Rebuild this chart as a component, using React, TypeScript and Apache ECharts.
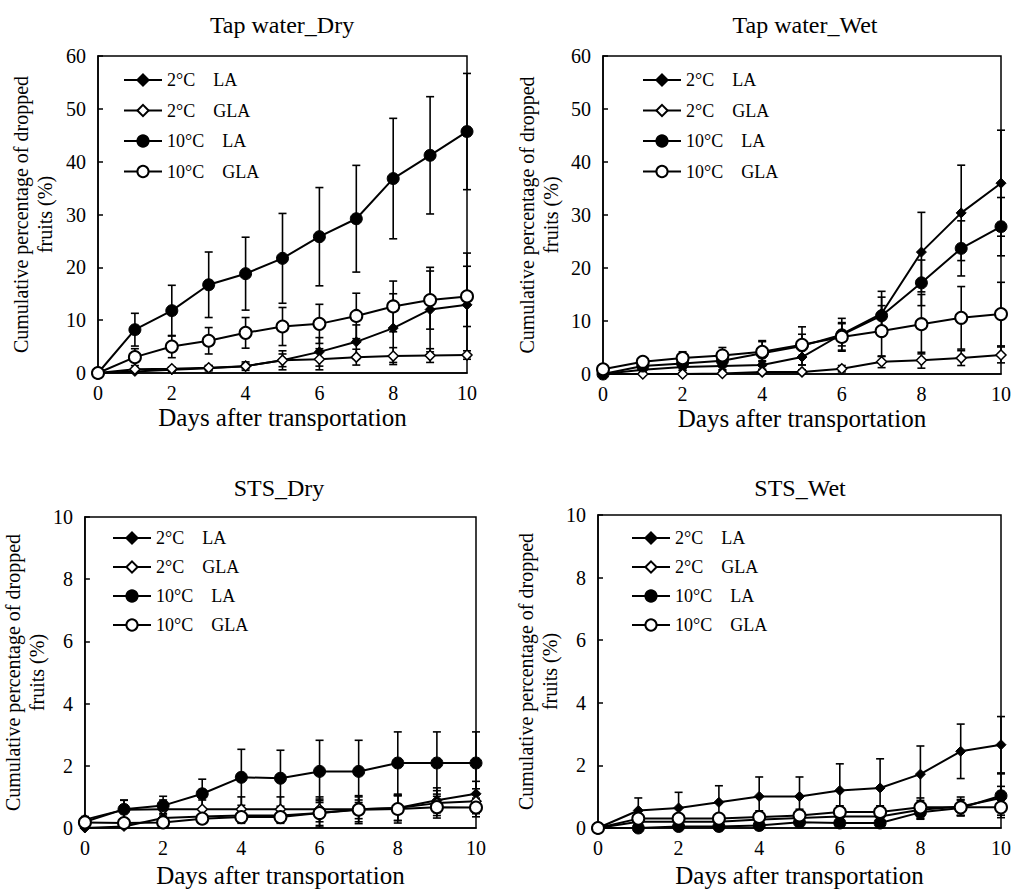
import React, { useEffect, useRef } from 'react';
import * as echarts from 'echarts';

const days = [0, 1, 2, 3, 4, 5, 6, 7, 8, 9, 10];
const legendNames = [
  '2°C\u00a0\u00a0\u00a0\u00a0LA',
  '2°C\u00a0\u00a0\u00a0\u00a0GLA',
  '10°C\u00a0\u00a0\u00a0\u00a0LA',
  '10°C\u00a0\u00a0\u00a0\u00a0GLA',
];
const panelTitles = ['Tap water_Dry', 'Tap water_Wet', 'STS_Dry', 'STS_Wet'];
const xAxisTitle = 'Days after transportation';
const yAxisTitle = 'Cumulative percentage of dropped\nfruits (%)';

// Tap water_Dry
const tapDryLa2 = [0, 0.3, 0.6, 0.9, 1.3, 2.4, 4.0, 5.9, 8.5, 12.0, 12.9];
const tapDryLa2Err = [0, 0.3, 0.4, 0.5, 0.8, 1.8, 2.7, 3.2, 6.5, 8.0, 9.8];
const tapDryGla2 = [0, 0.7, 0.8, 1.0, 1.3, 2.4, 2.6, 3.0, 3.2, 3.3, 3.4];
const tapDryGla2Err = [0, 0.3, 0.3, 0.4, 0.5, 1.2, 2.0, 1.5, 1.6, 1.3, 0.8];
const tapDryLa10 = [0, 8.2, 11.8, 16.7, 18.8, 21.7, 25.8, 29.2, 36.8, 41.2, 45.7];
const tapDryLa10Err = [0, 3.1, 4.8, 6.2, 6.9, 8.5, 9.3, 10.1, 11.4, 11.1, 11.0];
const tapDryGla10 = [0, 3.0, 5.0, 6.1, 7.6, 8.8, 9.3, 10.8, 12.6, 13.8, 14.5];
const tapDryGla10Err = [0, 1.6, 2.1, 2.5, 2.9, 3.6, 3.7, 4.3, 4.8, 5.5, 5.7];

// Tap water_Wet
const tapWetLa2 = [0, 0.8, 1.3, 1.5, 1.7, 3.2, 7.5, 11.4, 23.0, 30.4, 36.0];
const tapWetLa2Err = [0, 0.5, 0.6, 0.7, 0.8, 1.5, 2.2, 4.2, 7.5, 9.0, 10.0];
const tapWetGla2 = [0, 0, 0, 0.1, 0.4, 0.4, 1.0, 2.3, 2.6, 3.0, 3.6];
const tapWetGla2Err = [0, 0.2, 0.2, 0.3, 0.3, 0.4, 0.6, 1.1, 1.5, 1.4, 1.5];
const tapWetLa10 = [0, 1.5, 2.0, 2.5, 3.9, 5.3, 7.4, 11.0, 17.2, 23.7, 27.8];
const tapWetLa10Err = [0, 0.9, 1.3, 1.8, 2.4, 3.6, 3.1, 3.5, 4.3, 5.2, 5.5];
const tapWetGla10 = [0.9, 2.3, 3.0, 3.5, 4.2, 5.5, 7.0, 8.1, 9.4, 10.6, 11.3];
const tapWetGla10Err = [0.3, 0.8, 1.2, 1.5, 1.9, 2.0, 2.5, 4.8, 5.6, 5.9, 6.0];

// STS_Dry
const stsDryLa2 = [0, 0.05, 0.32, 0.37, 0.4, 0.4, 0.48, 0.6, 0.64, 0.89, 1.1];
const stsDryLa2Err = [0, 0.05, 0.15, 0.2, 0.2, 0.2, 0.4, 0.4, 0.4, 0.4, 0.4];
const stsDryGla2 = [0.27, 0.59, 0.6, 0.6, 0.6, 0.6, 0.6, 0.6, 0.64, 0.8, 0.86];
const stsDryGla2Err = [0.1, 0.3, 0.3, 0.3, 0.4, 0.4, 0.4, 0.3, 0.4, 0.4, 0.4];
const stsDryLa10 = [0.2, 0.6, 0.72, 1.1, 1.63, 1.6, 1.82, 1.82, 2.09, 2.09, 2.09];
const stsDryLa10Err = [0.1, 0.3, 0.3, 0.47, 0.9, 0.9, 1.0, 1.0, 1.0, 1.0, 1.0];
const stsDryGla10 = [0.18, 0.16, 0.18, 0.3, 0.35, 0.35, 0.48, 0.59, 0.61, 0.67, 0.66];
const stsDryGla10Err = [0.1, 0.1, 0.1, 0.15, 0.2, 0.2, 0.45, 0.45, 0.45, 0.35, 0.3];

// STS_Wet
const stsWetLa2 = [0, 0.56, 0.64, 0.82, 1.01, 1.01, 1.2, 1.28, 1.72, 2.45, 2.66];
const stsWetLa2Err = [0, 0.4, 0.5, 0.53, 0.62, 0.62, 0.85, 0.93, 0.9, 0.87, 0.9];
const stsWetGla2 = [0, 0.2, 0.2, 0.2, 0.27, 0.32, 0.37, 0.37, 0.58, 0.69, 0.96];
const stsWetGla2Err = [0, 0.1, 0.1, 0.1, 0.15, 0.15, 0.2, 0.2, 0.3, 0.3, 0.37];
const stsWetLa10 = [0, 0, 0.05, 0.05, 0.08, 0.18, 0.16, 0.16, 0.5, 0.64, 1.03];
const stsWetLa10Err = [0, 0, 0.1, 0.1, 0.1, 0.1, 0.1, 0.1, 0.2, 0.25, 0.7];
const stsWetGla10 = [0, 0.3, 0.3, 0.3, 0.35, 0.4, 0.51, 0.51, 0.66, 0.66, 0.66];
const stsWetGla10Err = [0, 0.1, 0.1, 0.1, 0.2, 0.2, 0.2, 0.2, 0.3, 0.25, 0.25];

const yMaxes = [60, 60, 10, 10];
const yIntervals = [10, 10, 2, 2];

const panelValues = [
  [tapDryLa2, tapDryGla2, tapDryLa10, tapDryGla10],
  [tapWetLa2, tapWetGla2, tapWetLa10, tapWetGla10],
  [stsDryLa2, stsDryGla2, stsDryLa10, stsDryGla10],
  [stsWetLa2, stsWetGla2, stsWetLa10, stsWetGla10],
];
const panelErrors = [
  [tapDryLa2Err, tapDryGla2Err, tapDryLa10Err, tapDryGla10Err],
  [tapWetLa2Err, tapWetGla2Err, tapWetLa10Err, tapWetGla10Err],
  [stsDryLa2Err, stsDryGla2Err, stsDryLa10Err, stsDryGla10Err],
  [stsWetLa2Err, stsWetGla2Err, stsWetLa10Err, stsWetGla10Err],
];

// Layout (pixels)
const FONT = "'Liberation Serif', 'Times New Roman', serif";
const grids = [
  { left: 98, top: 56, width: 369, height: 317 },
  { left: 603, top: 56, width: 402, height: 318 },
  { left: 83, top: 517, width: 393, height: 311 },
  { left: 598, top: 515, width: 406, height: 313 },
];
const titlePos = [
  { x: 282, y: 13 },
  { x: 805, y: 13 },
  { x: 279, y: 476 },
  { x: 800, y: 476 },
];
const legendPos = [
  { left: 123, top: 71, gap: 12.5 },
  { left: 642, top: 71, gap: 12.5 },
  { left: 112, top: 529, gap: 11 },
  { left: 631, top: 529, gap: 11 },
];
const xNameGaps = [32, 32, 35, 35];
const yNameGaps = [41, 40, 31, 35];

const markerStyles = [
  { symbol: 'diamond', size: 10, fill: '#000', borderWidth: 1 },
  { symbol: 'diamond', size: 10, fill: '#fff', borderWidth: 1.5 },
  { symbol: 'circle', size: 12, fill: '#000', borderWidth: 1 },
  { symbol: 'circle', size: 12, fill: '#fff', borderWidth: 2 },
];

function buildOption() {
  const series: any[] = [];
  panelValues.forEach((vals, p) => {
    vals.forEach((arr, s) => {
      const errs = panelErrors[p][s];
      series.push({
        type: 'custom',
        xAxisIndex: p,
        yAxisIndex: p,
        z: 1,
        silent: true,
        data: days.map((d, j) => [d, arr[j], errs[j]]),
        encode: { x: 0, y: 1 },
        renderItem: (params: any, api: any) => {
          const x = api.value(0);
          const y = api.value(1);
          const e = api.value(2);
          if (!e) return null;
          const top = api.coord([x, y + e]);
          const bot = api.coord([x, Math.max(0, y - e)]);
          const hw = 4;
          const st = { stroke: '#000', lineWidth: 1.6 };
          return {
            type: 'group',
            children: [
              { type: 'line', shape: { x1: top[0], y1: top[1], x2: bot[0], y2: bot[1] }, style: st },
              { type: 'line', shape: { x1: top[0] - hw, y1: top[1], x2: top[0] + hw, y2: top[1] }, style: st },
              { type: 'line', shape: { x1: bot[0] - hw, y1: bot[1], x2: bot[0] + hw, y2: bot[1] }, style: st },
            ],
          };
        },
      });
    });
    vals.forEach((arr, s) => {
      const m = markerStyles[s];
      series.push({
        type: 'line',
        name: legendNames[s],
        xAxisIndex: p,
        yAxisIndex: p,
        z: 3,
        data: days.map((d, j) => [d, arr[j]]),
        symbol: m.symbol,
        symbolSize: m.size,
        showSymbol: true,
        lineStyle: { color: '#000', width: 2 },
        itemStyle: { color: m.fill, borderColor: '#000', borderWidth: m.borderWidth },
        emphasis: { disabled: true },
      });
    });
  });

  return {
    animation: false,
    backgroundColor: '#fff',
    textStyle: { fontFamily: FONT, color: '#000' },
    title: panelTitles.map((t, i) => ({
      text: t,
      left: titlePos[i].x,
      top: titlePos[i].y,
      textAlign: 'center',
      padding: 0,
      textStyle: { fontFamily: FONT, fontSize: 24, fontWeight: 'normal', color: '#000' },
    })),
    legend: legendPos.map((l) => ({
      data: legendNames,
      orient: 'vertical',
      left: l.left,
      top: l.top,
      padding: 0,
      itemGap: l.gap,
      itemWidth: 38,
      itemHeight: 14,
      selectedMode: false,
      textStyle: { fontFamily: FONT, fontSize: 18, color: '#000' },
    })),
    grid: grids.map((g) => ({
      ...g,
      show: true,
      borderColor: '#000',
      borderWidth: 1.5,
      backgroundColor: 'transparent',
      containLabel: false,
    })),
    xAxis: grids.map((g, i) => ({
      type: 'value',
      gridIndex: i,
      min: 0,
      max: 10,
      interval: 2,
      name: xAxisTitle,
      nameLocation: 'middle',
      nameGap: xNameGaps[i],
      nameTextStyle: { fontFamily: FONT, fontSize: 25, color: '#000' },
      axisLine: { show: true, lineStyle: { color: '#000', width: 1.5 } },
      axisTick: { show: false },
      splitLine: { show: false },
      axisLabel: { fontFamily: FONT, fontSize: 20, color: '#000', margin: 10 },
    })),
    yAxis: grids.map((g, i) => ({
      type: 'value',
      gridIndex: i,
      min: 0,
      max: yMaxes[i],
      interval: yIntervals[i],
      name: yAxisTitle,
      nameLocation: 'middle',
      nameRotate: 90,
      nameGap: yNameGaps[i],
      nameTextStyle: { fontFamily: FONT, fontSize: 20, color: '#000', lineHeight: 24 },
      axisLine: { show: true, lineStyle: { color: '#000', width: 1.5 } },
      axisTick: { show: true, inside: true, length: 5, lineStyle: { color: '#000', width: 1.5 } },
      splitLine: { show: false },
      axisLabel: { fontFamily: FONT, fontSize: 20, color: '#000', margin: 12 },
    })),
    series,
  };
}

export default function App() {
  const ref = useRef<HTMLDivElement>(null);
  useEffect(() => {
    document.body.style.margin = '0';
    if (!ref.current) return;
    const chart = echarts.init(ref.current, undefined, { renderer: 'svg' });
    chart.setOption(buildOption() as any);
    return () => chart.dispose();
  }, []);
  return <div ref={ref} style={{ width: 1014, height: 892 }} />;
}
